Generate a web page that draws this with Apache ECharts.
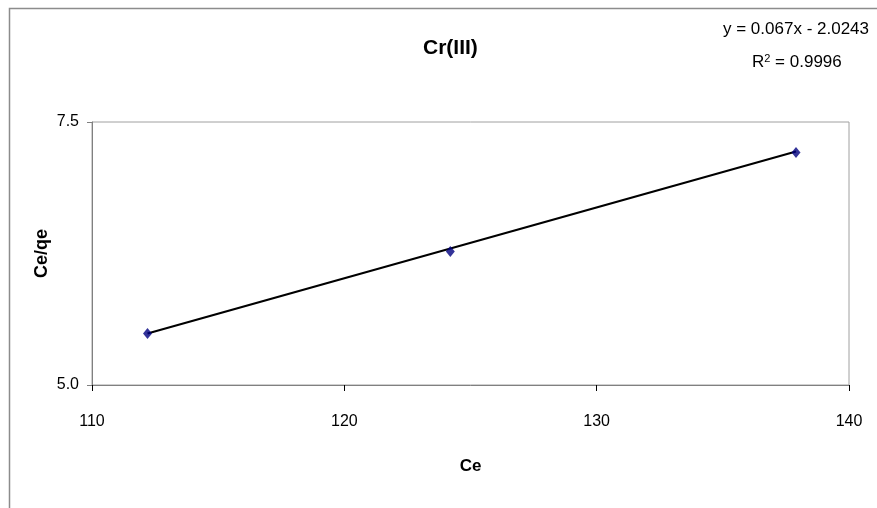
<!DOCTYPE html>
<html>
<head>
<meta charset="utf-8">
<script src="https://cdn.jsdelivr.net/npm/echarts@6/dist/echarts.min.js"></script>
<style>
html,body{margin:0;padding:0;background:#fff;}
#main{width:877px;height:508px;}
</style>
</head>
<body>
<div id="main"></div>
<script>
// data
var ceValues = [112.2, 124.2, 137.9];
var ceQeValues = [5.49, 6.27, 7.21];
// trend line ends (Excel linear trendline)
var trendX = [112.2, 137.9];
var trendY = [5.49, 7.22];
var eqLine1 = 'y = 0.067x - 2.0243';
var eqLine2 = 'R{sup|2} = 0.9996';

var font = '"Liberation Sans Narrow", "Liberation Sans", Arial, sans-serif';

var myChart = echarts.init(document.getElementById('main'));

var points = [];
for (var i = 0; i < ceValues.length; i++) {
    points.push([ceValues[i], ceQeValues[i]]);
}
var trend = [];
for (var j = 0; j < trendX.length; j++) {
    trend.push([trendX[j], trendY[j]]);
}

var option = {
    backgroundColor: '#fff',
    animation: false,
    title: {
        text: 'Cr(III)',
        left: 418,
        top: 33,
        textStyle: {fontFamily: font, fontSize: 21, fontWeight: 'bold', color: '#000'}
    },
    graphic: [
        {
            type: 'rect',
            shape: {x: 9.5, y: 8.5, width: 900, height: 520},
            style: {fill: 'none', stroke: '#8c8c8c', lineWidth: 1.5},
            silent: true
        },
        {
            type: 'text',
            left: 723,
            top: 21,
            style: {text: eqLine1, font: '17px ' + font, fill: '#000'}
        },
        {
            type: 'text',
            left: 752,
            top: 53,
            style: {
                text: eqLine2,
                font: '17px ' + font,
                fill: '#000',
                rich: {sup: {fontSize: 11, verticalAlign: 'top', padding: [0, 0, 8, 0], fontFamily: font}}
            }
        }
    ],
    grid: {
        left: 92,
        right: 28,
        top: 122,
        bottom: 123,
        show: true,
        borderColor: '#a0a0a0',
        borderWidth: 1
    },
    xAxis: {
        type: 'value',
        min: 110,
        max: 140,
        interval: 10,
        name: 'Ce',
        nameLocation: 'middle',
        nameGap: 73,
        nameMoveOverlap: false,
        nameTextStyle: {fontFamily: font, fontSize: 17, fontWeight: 'bold', color: '#000'},
        axisLine: {show: true, lineStyle: {color: '#808080', width: 1}},
        axisTick: {show: true, length: 6, lineStyle: {color: '#000'}},
        axisLabel: {fontFamily: font, fontSize: 16, color: '#000', margin: 29},
        splitLine: {show: false}
    },
    yAxis: {
        type: 'value',
        min: 5,
        max: 7.5,
        interval: 2.5,
        name: 'Ce/qe',
        nameLocation: 'middle',
        nameGap: 41,
        nameMoveOverlap: false,
        nameTextStyle: {fontFamily: font, fontSize: 18, fontWeight: 'bold', color: '#000'},
        axisLine: {show: true, lineStyle: {color: '#808080', width: 1}},
        axisTick: {show: true, length: 5, lineStyle: {color: '#808080'}},
        axisLabel: {
            fontFamily: font, fontSize: 16, color: '#000', margin: 13,
            formatter: function (v) { return v.toFixed(1); }
        },
        splitLine: {show: false}
    },
    series: [
        {
            name: 'trend',
            type: 'line',
            data: trend,
            symbol: 'none',
            lineStyle: {color: '#000', width: 2.2},
            z: 2
        },
        {
            name: 'Ce/qe',
            type: 'scatter',
            data: points,
            symbol: 'diamond',
            symbolSize: [9, 11],
            itemStyle: {color: '#000080'},
            z: 3
        }
    ]
};

myChart.setOption(option);
</script>
</body>
</html>
